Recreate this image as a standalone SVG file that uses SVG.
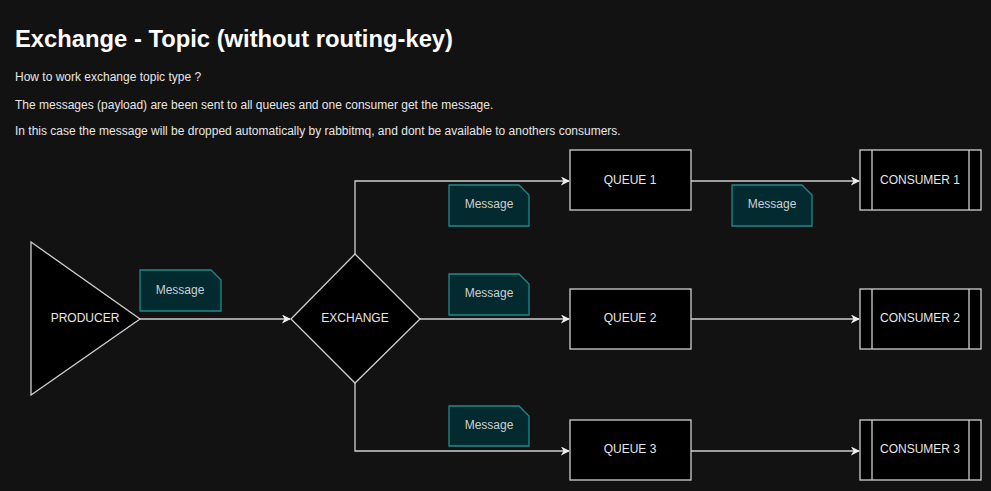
<svg xmlns="http://www.w3.org/2000/svg" width="991" height="491" viewBox="0 0 991 491">
<defs>
<style>
.bg{fill:#121212}
.node{fill:#000;stroke:#cfcfcf;stroke-width:1.3}
.msg{fill:#032a2e;stroke:#1f8a8a;stroke-width:1.3}
.lbl{font-family:"Liberation Sans",Arial,sans-serif;font-size:12px;fill:#e6e6e6;text-anchor:middle;dominant-baseline:central}
.mlbl{font-family:"Liberation Sans",Arial,sans-serif;font-size:12px;fill:#cfcfcf;text-anchor:middle;dominant-baseline:central}
.desc{font-family:"Liberation Sans",Arial,sans-serif;font-size:12px;fill:#e6e6e6}
.title{font-family:"Liberation Sans",Arial,sans-serif;font-size:24px;font-weight:bold;fill:#ffffff}
.edge{fill:none;stroke:#cfcfcf;stroke-width:1.3}
</style>
<marker id="arr" viewBox="0 0 10 10" refX="9" refY="5" markerWidth="9" markerHeight="9" markerUnits="userSpaceOnUse" orient="auto">
<path d="M0,0 L10,5 L0,10 L3,5 Z" fill="#f0f0f0"/>
</marker>
</defs>
<rect class="bg" x="0" y="0" width="991" height="491"/>
<g id="texts">
<text class="title" x="15" y="47" textLength="438" lengthAdjust="spacingAndGlyphs">Exchange - Topic (without routing-key)</text>
<text class="desc" x="15" y="81">How to work exchange topic type ?</text>
<text class="desc" x="15" y="109">The messages (payload) are been sent to all queues and one consumer get the message.</text>
<text class="desc" x="15" y="135">In this case the message will be dropped automatically by rabbitmq, and dont be available to anothers consumers.</text>
</g>
<g id="connectors">
<path class="edge" d="M140,319 L290,319" marker-end="url(#arr)"/>
<path class="edge" d="M355,254 L355,181 L569,181" marker-end="url(#arr)"/>
<path class="edge" d="M420,319 L569,319" marker-end="url(#arr)"/>
<path class="edge" d="M355,383 L355,451 L569,451" marker-end="url(#arr)"/>
<path class="edge" d="M691,181 L859,181" marker-end="url(#arr)"/>
<path class="edge" d="M691,319 L859,319" marker-end="url(#arr)"/>
<path class="edge" d="M691,451 L859,451" marker-end="url(#arr)"/>
</g>
<g id="producer">
<path class="node" d="M31,242 L140,319 L31,395 Z"/>
<text class="lbl" x="85" y="318">PRODUCER</text>
</g>
<g id="exchange">
<path class="node" d="M355,254 L420,319 L355,383 L291,319 Z"/>
<text class="lbl" x="355" y="318">EXCHANGE</text>
</g>
<g id="queue1">
<rect class="node" x="570" y="150" width="121" height="60"/>
<text class="lbl" x="630" y="180">QUEUE 1</text>
</g>
<g id="queue2">
<rect class="node" x="570" y="289" width="121" height="60"/>
<text class="lbl" x="630" y="318">QUEUE 2</text>
</g>
<g id="queue3">
<rect class="node" x="570" y="420" width="121" height="60"/>
<text class="lbl" x="630" y="449">QUEUE 3</text>
</g>
<g id="consumer1">
<rect class="node" x="860" y="150" width="121" height="60"/>
<path class="edge" d="M872,150 L872,210 M969,150 L969,210"/>
<text class="lbl" x="920" y="180">CONSUMER 1</text>
</g>
<g id="consumer2">
<rect class="node" x="860" y="289" width="121" height="60"/>
<path class="edge" d="M872,289 L872,349 M969,289 L969,349"/>
<text class="lbl" x="920" y="318">CONSUMER 2</text>
</g>
<g id="consumer3">
<rect class="node" x="860" y="420" width="121" height="60"/>
<path class="edge" d="M872,420 L872,480 M969,420 L969,480"/>
<text class="lbl" x="920" y="449">CONSUMER 3</text>
</g>
<g id="message1">
<path class="msg" d="M140,270 L211,270 L221,280 L221,311 L140,311 Z"/>
<text class="mlbl" x="180" y="290">Message</text>
</g>
<g id="message2">
<path class="msg" d="M449,185 L519,185 L529,195 L529,226 L449,226 Z"/>
<text class="mlbl" x="489" y="204">Message</text>
</g>
<g id="message3">
<path class="msg" d="M449,274 L519,274 L529,284 L529,315 L449,315 Z"/>
<text class="mlbl" x="489" y="293">Message</text>
</g>
<g id="message4">
<path class="msg" d="M449,406 L519,406 L529,416 L529,446 L449,446 Z"/>
<text class="mlbl" x="489" y="425">Message</text>
</g>
<g id="message5">
<path class="msg" d="M732,185 L802,185 L812,195 L812,226 L732,226 Z"/>
<text class="mlbl" x="772" y="204">Message</text>
</g>
</svg>
